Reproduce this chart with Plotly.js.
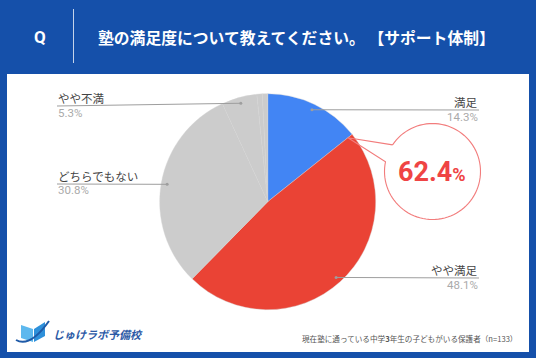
<!DOCTYPE html>
<html>
<head>
<meta charset="utf-8">
<script src="https://cdn.plot.ly/plotly-3.0.1.min.js"></script>
<style>
html,body{margin:0;padding:0;background:#1550AA;}
#chart{width:536px;height:358px;}
</style>
</head>
<body>
<div id="chart"></div>
<script>
// ---- data ----
const categories = ['満足', 'やや満足', 'どちらでもない', 'やや不満', '不満', 'わからない'];
const values = [14.3, 48.1, 30.8, 5.3, 0.8, 0.8];
const colors = ['#4285F4', '#EA4335', '#CCCCCC', '#CCCCCC', '#CCCCCC', '#CCCCCC'];
const titleText = '塾の満足度について教えてください。 【サポート体制】';
const noteText = '現在塾に通っている中学<b>3</b>年生の子どもがいる保護者（n=133）';
const logoText = 'じゅけラボ予備校';

// ---- layout helpers (pixels -> paper) ----
const W = 536, H = 358;
const px = x => x / W;
const py = y => 1 - y / H;
const CX = 267.7, CY = 201.7, R = 108;

const labelCfg = [
  {side: 'right', x: 479, lineY: 110},
  {side: 'right', x: 479, lineY: 278},
  {side: 'left', x: 57, lineY: 184},
  {side: 'left', x: 57, lineY: 106},
  null, null
];

const total = values.reduce((a, b) => a + b, 0);
const shapes = [];
const annotations = [];

// blue frame + white panel
shapes.push({type: 'rect', xref: 'paper', yref: 'paper', x0: px(7), x1: px(529), y0: py(352), y1: py(74),
  fillcolor: '#FFFFFF', line: {width: 0}, layer: 'below'});
// header divider
shapes.push({type: 'line', xref: 'paper', yref: 'paper', x0: px(73.5), x1: px(73.5), y0: py(9), y1: py(63),
  line: {color: 'rgba(255,255,255,0.75)', width: 1}});

annotations.push({xref: 'paper', yref: 'paper', x: px(40), y: py(37), text: '<b>Q</b>', showarrow: false,
  xanchor: 'center', yanchor: 'middle', font: {family: 'Roboto, sans-serif', size: 17, color: '#FFFFFF'}});
annotations.push({xref: 'paper', yref: 'paper', x: px(96), y: py(37), text: '<b>' + titleText + '</b>', showarrow: false,
  xanchor: 'left', yanchor: 'middle', font: {family: '"Noto Sans CJK JP", sans-serif', size: 15.8, color: '#FFFFFF'}});

// leader lines + labels
let cum = 0;
const bounds = [];
values.forEach((v, i) => {
  const mid = (cum + v / 2) / total * 2 * Math.PI;
  cum += v;
  bounds.push(cum / total * 2 * Math.PI);
  const cfg = labelCfg[i];
  if (!cfg) return;
  const dx = CX + 0.945 * R * Math.sin(mid);
  const dy = CY - 0.945 * R * Math.cos(mid);
  shapes.push({type: 'line', xref: 'paper', yref: 'paper', x0: px(dx), y0: py(dy), x1: px(cfg.x), y1: py(cfg.lineY),
    line: {color: '#9E9E9E', width: 1}});
  shapes.push({type: 'circle', xref: 'paper', yref: 'paper', x0: px(dx - 1.5), x1: px(dx + 1.5), y0: py(dy + 1.5), y1: py(dy - 1.5),
    fillcolor: '#9E9E9E', line: {width: 0}});
  const anchor = cfg.side === 'right' ? 'right' : 'left';
  annotations.push({xref: 'paper', yref: 'paper', x: px(cfg.x), y: py(cfg.lineY - 7), text: categories[i], showarrow: false,
    xanchor: anchor, yanchor: 'middle', borderpad: 0,
    font: {family: 'Roboto, "Noto Sans CJK JP", sans-serif', size: 11.5, color: '#444444'}});
  annotations.push({xref: 'paper', yref: 'paper', x: px(cfg.x), y: py(cfg.lineY + 6.5), text: v.toFixed(1) + '%', showarrow: false,
    xanchor: anchor, yanchor: 'middle', borderpad: 0,
    font: {family: 'Roboto, "Noto Sans CJK JP", sans-serif', size: 11.5, color: '#AAAAAA'}});
});

// speech bubble
const bx = 432.5, by = 171.5, br = 48;
const tipA = bounds[0];
const tipX = CX + 0.95 * R * Math.sin(tipA), tipY = CY - 0.95 * R * Math.cos(tipA);
const a1 = 213.7 * Math.PI / 180, a2 = (191.7 + 360) * Math.PI / 180;
let path = '';
const steps = 90;
for (let k = 0; k <= steps; k++) {
  const a = a1 + (a2 - a1) * k / steps;
  const x = bx + br * Math.cos(a), y = by + br * Math.sin(a);
  path += (k === 0 ? 'M' : 'L') + px(x).toFixed(5) + ',' + py(y).toFixed(5);
}
path += 'L' + px(tipX).toFixed(5) + ',' + py(tipY).toFixed(5);
path += 'L' + px(bx + br * Math.cos(a1)).toFixed(5) + ',' + py(by + br * Math.sin(a1)).toFixed(5);
shapes.push({type: 'path', xref: 'paper', yref: 'paper', path: path, line: {color: '#F27C7C', width: 1.1}});

const combined = (values[0] + values[1]).toFixed(1);
const parts = combined.split('.');
annotations.push({xref: 'paper', yref: 'paper', x: px(432), y: py(172), showarrow: false, xanchor: 'center', yanchor: 'middle',
  text: '<b>' + parts[0] + '.' + parts[1] + '<span style="font-size:18px">%</span></b>',
  font: {family: 'Roboto, sans-serif', size: 27, color: '#EF4444'}});

// footnote
annotations.push({xref: 'paper', yref: 'paper', x: px(519), y: py(338), text: noteText, showarrow: false,
  xanchor: 'right', yanchor: 'middle', font: {family: '"Noto Sans CJK JP", sans-serif', size: 7.6, color: '#555555'}});

// logo
shapes.push({type: 'path', xref: 'paper', yref: 'paper',
  path: `M${px(21)},${py(325)}L${px(33)},${py(329)}L${px(33)},${py(342)}L${px(21)},${py(338)}Z`,
  fillcolor: '#5DB8EE', line: {width: 0}});
shapes.push({type: 'path', xref: 'paper', yref: 'paper',
  path: `M${px(34)},${py(329)}L${px(45)},${py(322)}L${px(45)},${py(336)}L${px(34)},${py(342)}Z`,
  fillcolor: '#2E90DA', line: {width: 0}});
shapes.push({type: 'path', xref: 'paper', yref: 'paper',
  path: `M${px(16)},${py(340)}Q${px(30)},${py(348)},${px(49)},${py(321)}`,
  line: {color: '#1E5AA8', width: 2}});
annotations.push({xref: 'paper', yref: 'paper', x: px(51), y: py(334), text: '<b><i>' + logoText + '</i></b>', showarrow: false,
  xanchor: 'left', yanchor: 'middle', font: {family: '"Noto Sans CJK JP", sans-serif', size: 11, color: '#2C5AA6'}});

const trace = {
  type: 'pie',
  labels: categories,
  values: values,
  sort: false,
  direction: 'clockwise',
  rotation: 0,
  textinfo: 'none',
  hoverinfo: 'label+percent',
  marker: {colors: colors, line: {color: '#D4D4D4', width: 0.4}},
  domain: {x: [px(CX - R), px(CX + R)], y: [py(CY + R), py(CY - R)]},
  showlegend: false
};

const layout = {
  width: W, height: H,
  margin: {l: 0, r: 0, t: 0, b: 0},
  paper_bgcolor: '#1550AA',
  plot_bgcolor: '#FFFFFF',
  showlegend: false,
  shapes: shapes,
  annotations: annotations
};

Plotly.newPlot('chart', [trace], layout, {displayModeBar: false, staticPlot: true});
</script>
</body>
</html>
